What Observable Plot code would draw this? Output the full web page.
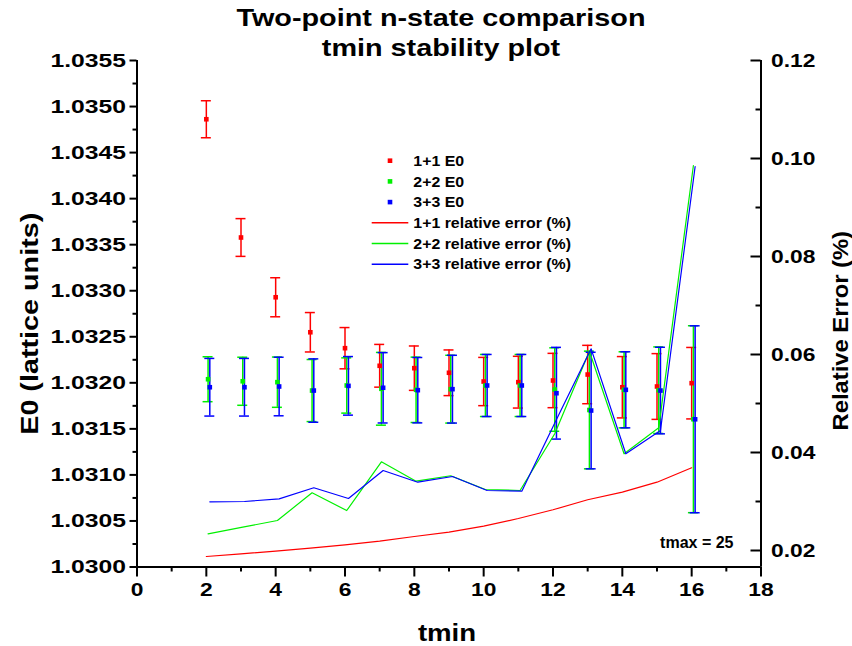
<!DOCTYPE html>
<html><head><meta charset="utf-8">
<script src="https://cdn.jsdelivr.net/npm/d3@7"></script>
<script src="https://cdn.jsdelivr.net/npm/@observablehq/plot@0.6"></script>
<style>
html,body{margin:0;padding:0;background:#fff;}
#chart{width:852px;height:646px;}
</style></head><body><div id="chart"></div>
<script>
// ---- data ----
const tmin = [2,3,4,5,6,7,8,9,10,11,12,13,14,15,16];
const e0_11  = [1.034862,1.033578,1.032929,1.032549,1.032376,1.032185,1.032159,1.032109,1.032014,1.032007,1.032025,1.032090,1.031952,1.031960,1.031996];
const err_11 = [0.000201,0.000205,0.000212,0.000214,0.000224,0.000232,0.000241,0.000248,0.000262,0.000281,0.000295,0.000317,0.000333,0.000357,0.000388];
const e0_22  = [1.032039,1.032017,1.032007,1.031916,1.031971,1.031935,1.031924,1.031931,1.031971,1.031971,1.031927,1.031705,1.031924,1.031920,1.031605];
const err_22 = [0.000244,0.000261,0.000273,0.000337,0.000300,0.000395,0.000355,0.000368,0.000337,0.000337,0.000453,0.000639,0.000413,0.000470,0.001015];
const e0_33  = [1.031952,1.031952,1.031960,1.031916,1.031967,1.031946,1.031920,1.031931,1.031971,1.031971,1.031887,1.031699,1.031924,1.031916,1.031604];
const err_33 = [0.000313,0.000313,0.000318,0.000344,0.000318,0.000382,0.000355,0.000368,0.000337,0.000337,0.000498,0.000633,0.000413,0.000470,0.001015];
const rel_11 = [0.01878,0.01933,0.01986,0.02047,0.02116,0.02190,0.02286,0.02374,0.02496,0.02653,0.02831,0.03035,0.03190,0.03394,0.03688];
const rel_22 = [0.02341,0.02476,0.02612,0.03178,0.02816,0.03810,0.03414,0.03525,0.03245,0.03225,0.04382,0.06067,0.03974,0.04504,0.09857];
const rel_33 = [0.02994,0.03000,0.03055,0.03280,0.03061,0.03633,0.03394,0.03510,0.03225,0.03210,0.04674,0.06116,0.03974,0.04449,0.09837];

const seriesNames = ["1+1","2+2","3+3"];
const seriesColors = ["#ff0000","#00f000","#0000ff"];
const xTicks = [0,2,4,6,8,10,12,14,16,18];
const xMinor = [1,3,5,7,9,11,13,15,17];
const yTicks = [1.0300,1.0305,1.0310,1.0315,1.0320,1.0325,1.0330,1.0335,1.0340,1.0345,1.0350,1.0355];
const yMinor = [1.03025,1.03075,1.03125,1.03175,1.03225,1.03275,1.03325,1.03375,1.03425,1.03475,1.03525];
const rTicks = [0.02,0.04,0.06,0.08,0.10,0.12];
const rMinor = [0.03,0.05,0.07,0.09,0.11];
const titleLines = ["Two-point n-state comparison","tmin stability plot"];

// ---- secondary axis mapping ----
const Y0 = 1.0300, Y1 = 1.0355, R0 = 0.016633, R1 = 0.12;
const toLeft = r => Y0 + (r - R0) * (Y1 - Y0) / (R1 - R0);
const fromLeft = y => R0 + (y - Y0) * (R1 - R0) / (Y1 - Y0);

const dodge = [0, 0.05, 0.1];
const capHalf = 0.144;
const plotW = 624;
const E0 = [e0_11, e0_22, e0_33], ERR = [err_11, err_22, err_33], REL = [rel_11, rel_22, rel_33];
const rows = seriesNames.map((s, k) => tmin.map((t, i) => ({s, t, x: t + dodge[k], e0: E0[k][i], err: ERR[k][i], rel: REL[k][i]})));

const marks = [];
rows.forEach((data, k) => {
  const c = seriesColors[k];
  marks.push(Plot.ruleX(data, {x: "x", y1: d => d.e0 - d.err, y2: d => d.e0 + d.err, stroke: c, strokeWidth: 1.5}));
  marks.push(Plot.ruleY(data, {y: d => d.e0 + d.err, x1: d => d.x - capHalf, x2: d => d.x + capHalf, stroke: c, strokeWidth: 1.5}));
  marks.push(Plot.ruleY(data, {y: d => d.e0 - d.err, x1: d => d.x - capHalf, x2: d => d.x + capHalf, stroke: c, strokeWidth: 1.5}));
});
rows.forEach((data, k) => {
  marks.push(Plot.line(data, {x: "x", y: d => toLeft(d.rel), stroke: seriesColors[k], strokeWidth: 1.2}));
});
rows.forEach((data, k) => {
  marks.push(Plot.dot(data, {x: "x", y: "e0", symbol: "square", r: 2.6, fill: seriesColors[k]}));
});

const chart = Plot.plot({
  width: 852, height: 646,
  marginLeft: 136.5, marginRight: 91.5, marginTop: 60, marginBottom: 79.5,
  style: {fontFamily: "'Liberation Sans', Arial, sans-serif", fontWeight: "bold", fontSize: "19px", color: "black", background: "white"},
  x: {domain: [0, 18]},
  y: {domain: [Y0, Y1]},
  marks: [
    ...marks,
    // axis lines
    Plot.ruleX([0], {strokeWidth: 2}),
    Plot.ruleX([18], {strokeWidth: 2}),
    Plot.ruleY([Y0], {strokeWidth: 2}),
    // bottom axis
    Plot.axisX(xTicks, {tickSize: 10, fill: "none", strokeWidth: 2}),
    Plot.axisX(xMinor, {tickSize: 5, fill: "none", strokeWidth: 2}),
    Plot.axisX(xTicks, {tickSize: 0, tickPadding: 15, label: null, fontSize: 19}),
    // left axis
    Plot.axisY(yTicks, {anchor: "left", tickSize: 7, fill: "none", strokeWidth: 2}),
    Plot.axisY(yMinor, {anchor: "left", tickSize: 4, fill: "none", strokeWidth: 2}),
    Plot.axisY(yTicks, {anchor: "left", tickSize: 0, tickPadding: 11, label: null, tickFormat: d3.format(".4f"), fontSize: 19}),
    // right axis (ticks point inward)
    Plot.axisY(rTicks.map(toLeft), {anchor: "left", dx: plotW, tickSize: 10, fill: "none", strokeWidth: 2}),
    Plot.axisY(rMinor.map(toLeft), {anchor: "left", dx: plotW, tickSize: 5, fill: "none", strokeWidth: 2}),
    Plot.axisY(rTicks.map(toLeft), {anchor: "right", tickSize: 0, tickPadding: 10, label: null, tickFormat: d => fromLeft(d).toFixed(2), fontSize: 19}),
    // titles
    Plot.text([titleLines[0]], {text: d => d, frameAnchor: "top", lineAnchor: "middle", dx: -8, dy: -42, fontSize: 24}),
    Plot.text([titleLines[1]], {text: d => d, frameAnchor: "top", lineAnchor: "middle", dx: -8, dy: -12, fontSize: 24}),
    Plot.text(["tmin"], {text: d => d, frameAnchor: "bottom", lineAnchor: "middle", dx: -2, dy: 66.5, fontSize: 23}),
    Plot.text(["E0 (lattice units)"], {text: d => d, frameAnchor: "left", textAnchor: "middle", lineAnchor: "middle", dx: -106, dy: 10, rotate: -90, fontSize: 23}),
    Plot.text(["Relative Error (%)"], {text: d => d, frameAnchor: "right", textAnchor: "middle", lineAnchor: "middle", dx: 80, dy: 17, rotate: -90, fontSize: 22}),
    Plot.text(["tmax = 25"], {text: d => d, frameAnchor: "bottom-right", textAnchor: "end", lineAnchor: "middle", dx: -27.5, dy: -24, fontSize: 16})
  ]
});
document.getElementById("chart").appendChild(chart);

// ---- legend ----
const svg = d3.select(chart);
const lg = svg.append("g").attr("font-size", 15).attr("font-weight", "bold").attr("text-anchor", "start");
const legendItems = [
  ...seriesNames.map((s, k) => ({label: s + " E0", color: seriesColors[k], kind: "dot"})),
  ...seriesNames.map((s, k) => ({label: s + " relative error (%)", color: seriesColors[k], kind: "line"}))
];
legendItems.forEach((it, i) => {
  const y = 160.7 + i * 20.7;
  if (it.kind === "dot") {
    lg.append("rect").attr("x", 387.7).attr("y", y - 2.3).attr("width", 4.6).attr("height", 4.6).attr("fill", it.color);
  } else {
    lg.append("line").attr("x1", 371.7).attr("x2", 408.3).attr("y1", y).attr("y2", y).attr("stroke", it.color).attr("stroke-width", 1.5);
  }
  lg.append("text").attr("x", 413.3).attr("y", y).attr("dy", "0.35em").attr("fill", "black").attr("text-anchor", "start").text(it.label);
});

// ---- horizontal stretch of lettering (the reference type is wide) ----
const special = {"tmin": 1.2, "E0 (lattice units)": 1.25, "Relative Error (%)": 1.08, "tmax = 25": 1.0};
titleLines.forEach(t => special[t] = 1.2);
chart.querySelectorAll("text").forEach(n => {
  if (n.querySelector("tspan")) return;
  const s = n.textContent;
  let k = special[s];
  if (k === undefined) {
    if (s.includes("E0") || s.includes("relative")) k = 1.06;
    else if (/^1\.03/.test(s)) k = 1.3;
    else k = 1.2;
  }
  const L = n.getComputedTextLength();
  if (L > 0) { n.setAttribute("textLength", L * k); n.setAttribute("lengthAdjust", "spacingAndGlyphs"); }
});
</script></body></html>
